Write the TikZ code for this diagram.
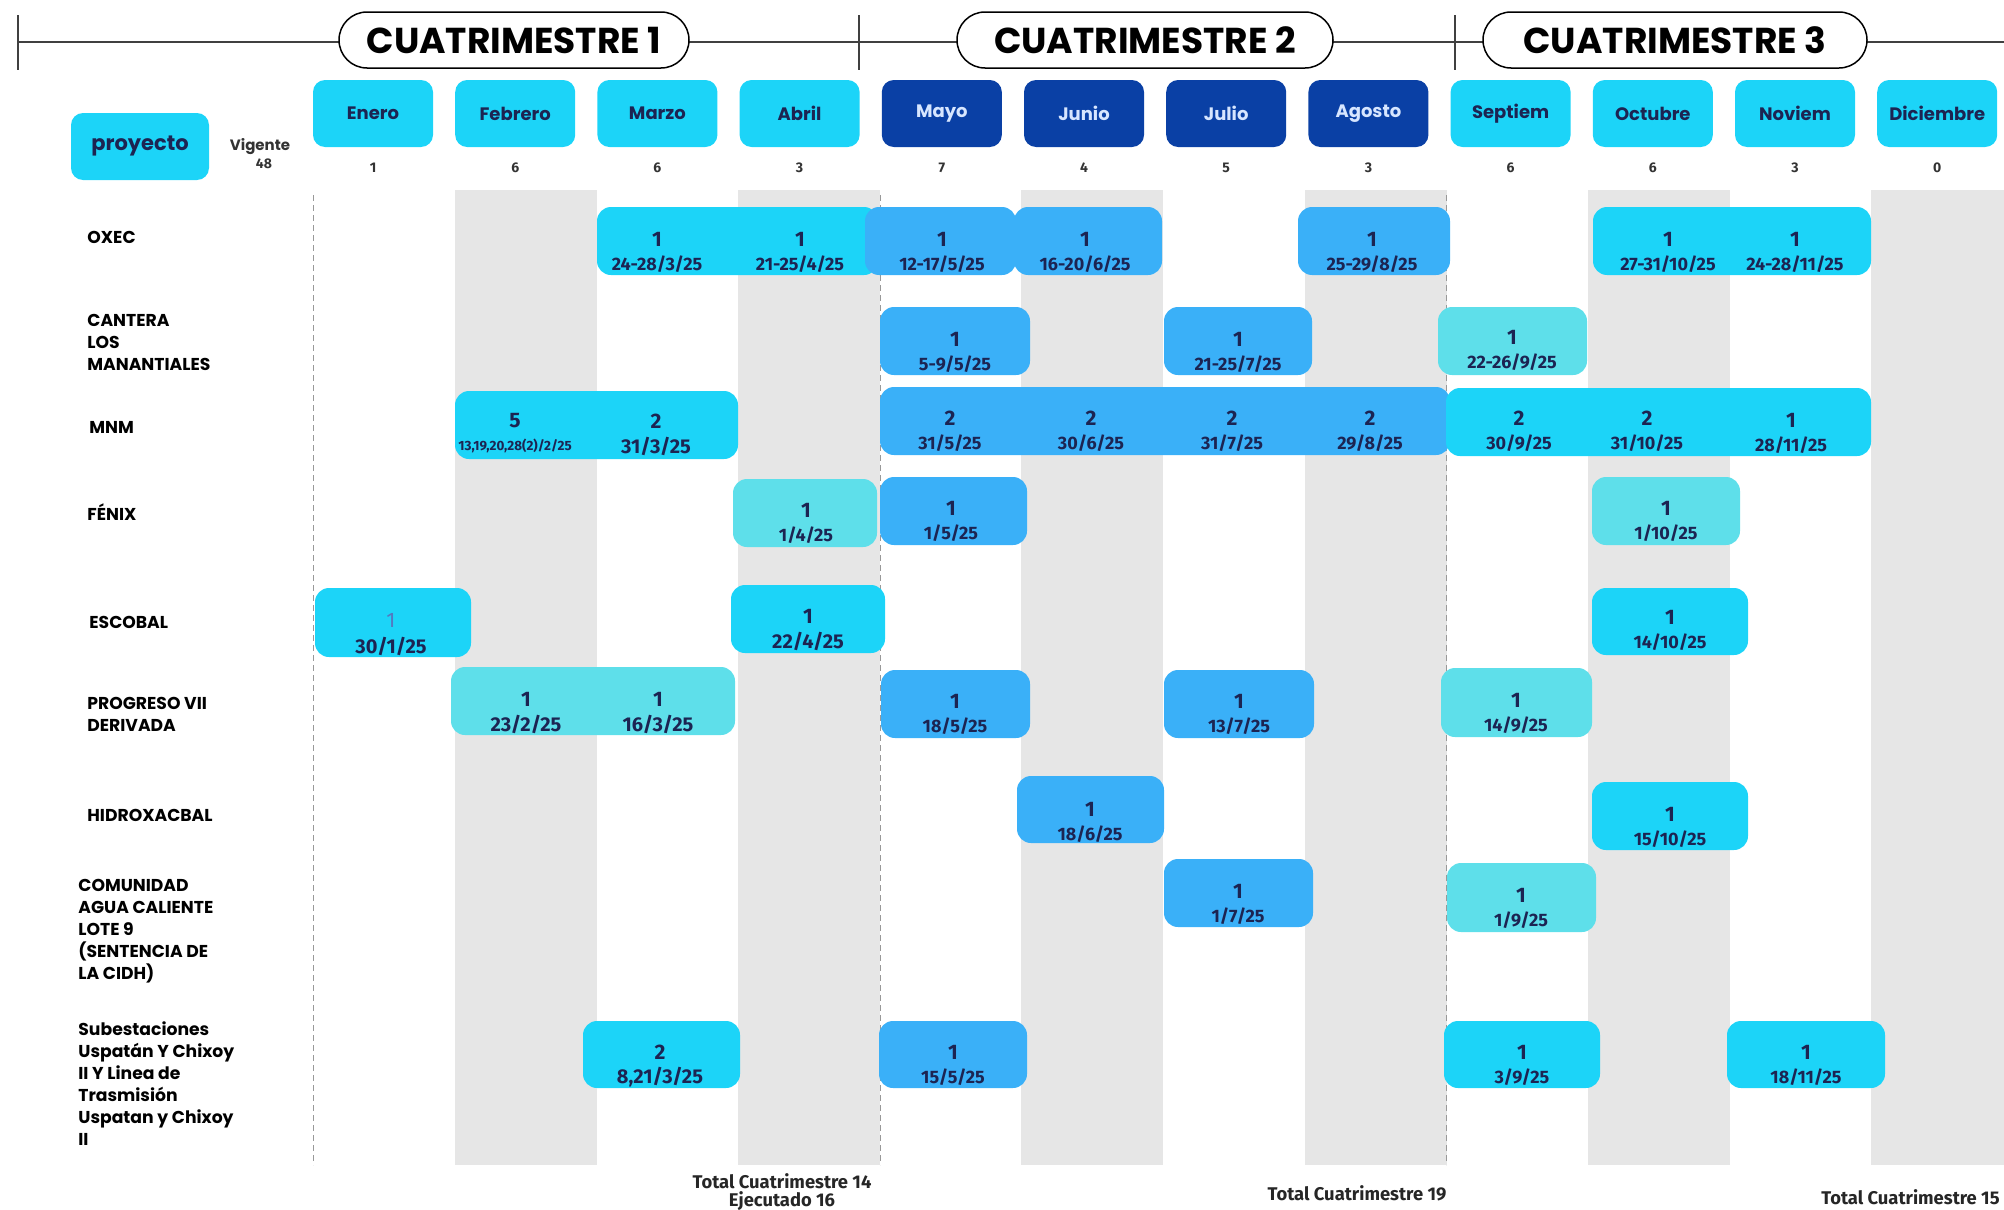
\documentclass[tikz,border=0pt]{standalone}
\usepackage{fontspec}
\setmainfont{Poppins}
\newfontfamily\fira{Fira Sans}
\definecolor{cian}{RGB}{28,212,248}
\definecolor{azul}{RGB}{58,176,248}
\definecolor{turq}{RGB}{94,223,234}
\definecolor{oscuro}{RGB}{10,64,165}
\definecolor{claro}{RGB}{215,230,255}
\definecolor{tinta}{RGB}{28,36,82}
\definecolor{franja}{RGB}{230,230,230}
\newcommand{\tramo}[5]{\fill[#5,rounded corners=7pt] (#1,#3) rectangle (#2,#4);}
\newcommand{\celda}[6][fecha]{\node[num] (#2) at (#3,#4) {#5};
  \node[#1] (#2f) at (#3,#4+25) {#6};}

\begin{document}
\begin{tikzpicture}[x=0.5pt,y=-0.5pt,
  num/.style={font=\fira\bfseries\fontsize{10.5}{12}\selectfont,text=tinta,inner sep=0pt},
  fecha/.style={font=\fira\bfseries\fontsize{9}{10}\selectfont,text=tinta,inner sep=0pt},
  fechag/.style={fecha,font=\fira\bfseries\fontsize{10}{11}\selectfont},
  fechap/.style={fecha,font=\fira\bfseries\fontsize{6.7}{8}\selectfont},
  mes/.style={rounded corners=6pt,minimum width=60pt,minimum height=33.5pt,inner sep=0pt,
    font=\bfseries\fontsize{9}{10}\selectfont},
  pill/.style={draw=black,line width=0.75pt,fill=white,rounded corners=14pt,minimum height=28pt,
    font=\bfseries\fontsize{18}{20}\selectfont},
  proy/.style={font=\bfseries\fontsize{8.6}{11}\selectfont,align=left,anchor=west,inner sep=0pt},
  cuenta/.style={font=\fira\bfseries\fontsize{7}{8}\selectfont,text=black!80,inner sep=0pt},
  total/.style={font=\fira\bfseries\fontsize{9.2}{10}\selectfont,text=black!85,inner sep=0pt},
  eje/.style={draw=black!75,line width=1pt},
  guia/.style={draw=black!40,line width=0.5pt,dash pattern=on 3pt off 2pt}]
\useasboundingbox (0,0) rectangle (2004,1210);

\foreach \x in {455,738,1021,1305,1588,1871}
  \fill[franja] (\x,190) rectangle ++(142,975);
\foreach \x in {313,880,1446}
  \draw[guia] (\x,195) -- (\x,1165);

\coordinate (ini) at (18,42);
\coordinate (fin) at (2004,42);
\draw[eje] (ini) -- (fin);
\foreach \x in {18,859,1455}
  \draw[eje] (\x,15) -- (\x,70);
\node[pill,minimum width=175pt] (c1) at (514,40) {CUATRIMESTRE 1};
\node[pill,minimum width=188pt] (c2) at (1145,40) {CUATRIMESTRE 2};
\node[pill,minimum width=192pt] (c3) at (1675,40) {CUATRIMESTRE 3};

\foreach \m/\c/\t [count=\i from 0] in {Enero/cian/tinta,Febrero/cian/tinta,Marzo/cian/tinta,
    Abril/cian/tinta,Mayo/oscuro/claro,Junio/oscuro/claro,Julio/oscuro/claro,Agosto/oscuro/claro,
    Septiem/cian/tinta,Octubre/cian/tinta,Noviem/cian/tinta,Diciembre/cian/tinta}
  \node[mes,fill=\c,text=\t] (m\i) at (373+142.2*\i,113.5) {\m};
\foreach \n [count=\i from 0] in {1,6,6,3,7,4,5,3,6,6,3,0}
  \node[cuenta] (k\i) at (373+142.2*\i,168) {\n};

\node[mes,fill=cian,text=tinta,minimum width=69pt,font=\bfseries\fontsize{10.5}{12}\selectfont]
  (proy) at (140,146.5) {proyecto};
\node[cuenta,font=\bfseries\fontsize{7.5}{8}\selectfont] (vig) at (260,147) {Vigente};
\node[cuenta] (vig48) at (264,164) {48};

\node[proy] (oxec) at (87,237) {OXEC};
\node[proy] (cant) at (87,342) {CANTERA\\LOS\\MANANTIALES};
\node[proy] (mnm) at (89,427) {MNM};
\node[proy] (fen) at (87,512) {FÉNIX};
\node[proy] (esc) at (89,622) {ESCOBAL};
\node[proy] (prog) at (87,714) {PROGRESO VII\\DERIVADA};
\node[proy] (hidro) at (87,815) {HIDROXACBAL};
\node[proy] (com) at (78,931) {COMUNIDAD\\AGUA CALIENTE\\LOTE 9\\(SENTENCIA DE\\LA CIDH)};
\node[proy] (sub) at (78,1084) {Subestaciones\\Uspatán Y Chixoy\\II Y Linea de\\Trasmisión\\Uspatan y Chixoy\\II};

% OXEC
\tramo{597}{878}{207}{275}{cian}
\tramo{865}{1016}{207}{275}{azul}
\tramo{1014}{1162}{207}{275}{azul}
\tramo{1298}{1450}{207}{275}{azul}
\tramo{1593}{1871}{207}{275}{cian}
\celda{ox3}{657}{239}{1}{24-28/3/25}
\celda{ox4}{800}{239}{1}{21-25/4/25}
\celda{ox5}{942}{239}{1}{12-17/5/25}
\celda{ox6}{1085}{239}{1}{16-20/6/25}
\celda{ox8}{1372}{239}{1}{25-29/8/25}
\celda{ox10}{1668}{239}{1}{27-31/10/25}
\celda{ox11}{1795}{239}{1}{24-28/11/25}
% CANTERA
\tramo{880}{1030}{307}{375}{azul}
\tramo{1164}{1312}{307}{375}{azul}
\tramo{1438}{1587}{307}{375}{turq}
\celda{ca5}{955}{339}{1}{5-9/5/25}
\celda{ca7}{1238}{339}{1}{21-25/7/25}
\celda{ca9}{1512}{337}{1}{22-26/9/25}
% MNM
\tramo{455}{738}{391}{459}{cian}
\tramo{880}{1450}{387}{455}{azul}
\tramo{1446}{1871}{388}{456}{cian}
\celda[fechap]{mn2}{515}{421}{5}{13,19,20,28(2)/2/25}
\celda[fechag]{mn3}{656}{421}{2}{31/3/25}
\celda{mn5}{950}{418}{2}{31/5/25}
\celda{mn6}{1091}{418}{2}{30/6/25}
\celda{mn7}{1232}{418}{2}{31/7/25}
\celda{mn8}{1370}{418}{2}{29/8/25}
\celda{mn9}{1519}{418}{2}{30/9/25}
\celda{mn10}{1647}{418}{2}{31/10/25}
\celda{mn11}{1791}{420}{1}{28/11/25}
% FENIX
\tramo{733}{877}{479}{547}{turq}
\tramo{880}{1027}{477}{545}{azul}
\tramo{1592}{1740}{477}{545}{turq}
\celda{fe4}{806}{510}{1}{1/4/25}
\celda{fe5}{951}{508}{1}{1/5/25}
\celda{fe10}{1666}{508}{1}{1/10/25}
% ESCOBAL
\tramo{315}{471}{588}{657}{cian}
\tramo{731}{885}{585}{653}{cian}
\tramo{1592}{1748}{588}{655}{cian}
\node[num,font=\fira\fontsize{10.5}{12}\selectfont,text=oscuro!70] (es1) at (391,620) {1};
\node[fechag] (es1f) at (391,646) {30/1/25};
\celda[fechag]{es4}{808}{616}{1}{22/4/25}
\celda{es10}{1670}{617}{1}{14/10/25}
% PROGRESO
\tramo{451}{735}{667}{735}{turq}
\tramo{881}{1030}{670}{738}{azul}
\tramo{1164}{1314}{670}{738}{azul}
\tramo{1441}{1592}{668}{737}{turq}
\celda[fechag]{pr2}{526}{699}{1}{23/2/25}
\celda[fechag]{pr3}{658}{699}{1}{16/3/25}
\celda{pr5}{955}{701}{1}{18/5/25}
\celda{pr7}{1239}{701}{1}{13/7/25}
\celda{pr9}{1516}{700}{1}{14/9/25}
% HIDROXACBAL
\tramo{1017}{1164}{776}{843}{azul}
\tramo{1592}{1748}{782}{850}{cian}
\celda{hi6}{1090}{809}{1}{18/6/25}
\celda{hi10}{1670}{814}{1}{15/10/25}
% COMUNIDAD
\tramo{1164}{1313}{859}{927}{azul}
\tramo{1447}{1596}{863}{932}{turq}
\celda{co7}{1238}{891}{1}{1/7/25}
\celda{co9}{1521}{895}{1}{1/9/25}
% SUBESTACIONES
\tramo{583}{740}{1021}{1088}{cian}
\tramo{879}{1027}{1021}{1088}{azul}
\tramo{1444}{1600}{1021}{1088}{cian}
\tramo{1727}{1885}{1021}{1088}{cian}
\celda[fechag]{su3}{660}{1052}{2}{8,21/3/25}
\celda{su5}{953}{1052}{1}{15/5/25}
\celda{su9}{1522}{1052}{1}{3/9/25}
\celda{su11}{1806}{1052}{1}{18/11/25}

\node[total] (t1) at (782,1181) {Total Cuatrimestre 14};
\node[total] (e1) at (782,1201) {Ejecutado 16};
\node[total] (t2) at (1357,1193) {Total Cuatrimestre 19};
\node[total,anchor=east] (t3) at (2000,1197) {Total Cuatrimestre 15};
\end{tikzpicture}
\end{document}
